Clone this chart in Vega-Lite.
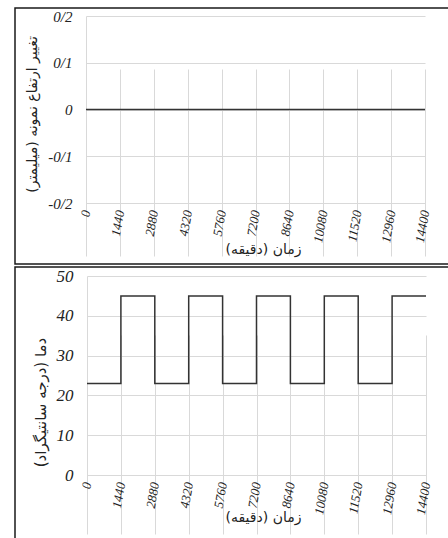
{
  "$schema": "https://vega.github.io/schema/vega-lite/v6.json",
  "padding": {"left": 14, "top": 7, "right": -5, "bottom": -5},
  "spacing": 1,
  "background": "white",
  "config": {
    "view": {"stroke": "#1a1a1a", "strokeWidth": 1.5},
    "axis": {
      "gridColor": "#d9d9d9",
      "gridWidth": 1,
      "domainColor": "#d9d9d9",
      "domainWidth": 1,
      "tickSize": 0,
      "ticks": false,
      "labelFont": "Liberation Serif",
      "labelFontStyle": "italic",
      "labelColor": "#222",
      "labelFlush": false,
      "labelOverlap": false,
      "titleFont": "DejaVu Sans",
      "titleColor": "#222",
      "titleFontWeight": "normal"
    }
  },
  "vconcat": [
    {
      "width": 437,
      "height": 256,
      "data": {"values": [
        {"t": 0, "h": 0}, {"t": 1440, "h": 0}, {"t": 2880, "h": 0}, {"t": 4320, "h": 0},
        {"t": 5760, "h": 0}, {"t": 7200, "h": 0}, {"t": 8640, "h": 0}, {"t": 10080, "h": 0},
        {"t": 11520, "h": 0}, {"t": 12960, "h": 0}, {"t": 14400, "h": 0}
      ]},
      "mark": {"type": "line", "color": "#333", "strokeWidth": 1.5},
      "encoding": {
        "x": {
          "field": "t", "type": "quantitative",
          "scale": {"domain": [0, 14400], "range": [71, 410], "nice": false, "zero": false},
          "axis": {
            "values": [0, 1440, 2880, 4320, 5760, 7200, 8640, 10080, 11520, 12960, 14400],
            "format": "d",
            "offset": -61, "labelAngle": -80, "labelFontSize": 13, "labelPadding": 7,
            "title": "زمان (دقیقه)", "titleFontSize": 14, "titleX": 248, "titleY": 46, "titleBaseline": "middle"
          }
        },
        "y": {
          "field": "h", "type": "quantitative",
          "scale": {"domain": [-0.2, 0.2], "range": [195, 8], "nice": false, "zero": false},
          "axis": {
            "values": [-0.2, -0.1, 0, 0.1, 0.2],
            "offset": -71,
            "labelExpr": "datum.value == 0 ? '0' : (datum.value < 0 ? '-' : '') + replace(format(abs(datum.value), '.1f'), '.', '/')",
            "labelFontSize": 15, "labelPadding": 14,
            "title": "تغییر ارتفاع نمونه (میلیمتر)", "titleFontSize": 14, "titlePadding": 8, "titleY": 106
          }
        }
      }
    },
    {
      "width": 437,
      "height": 276,
      "data": {"values": [
        {"t": 0, "temp": 23}, {"t": 1440, "temp": 45}, {"t": 2880, "temp": 23}, {"t": 4320, "temp": 45},
        {"t": 5760, "temp": 23}, {"t": 7200, "temp": 45}, {"t": 8640, "temp": 23}, {"t": 10080, "temp": 45},
        {"t": 11520, "temp": 23}, {"t": 12960, "temp": 45}, {"t": 14400, "temp": 45}
      ]},
      "mark": {"type": "line", "color": "#333", "strokeWidth": 1.5, "interpolate": "step-after"},
      "encoding": {
        "x": {
          "field": "t", "type": "quantitative",
          "scale": {"domain": [0, 14400], "range": [72, 411], "nice": false, "zero": false},
          "axis": {
            "values": [0, 1440, 2880, 4320, 5760, 7200, 8640, 10080, 11520, 12960, 14400],
            "format": "d",
            "offset": -68, "labelAngle": -80, "labelFontSize": 13, "labelPadding": 7,
            "title": "زمان (دقیقه)", "titleFontSize": 14, "titleX": 248, "titleY": 42, "titleBaseline": "middle"
          }
        },
        "y": {
          "field": "temp", "type": "quantitative",
          "scale": {"domain": [0, 50], "range": [208, 9], "nice": false},
          "axis": {
            "values": [0, 10, 20, 30, 40, 50],
            "offset": -72,
            "labelFontSize": 17, "labelPadding": 14,
            "title": "دما (درجه سانتیگراد)", "titleFontSize": 15, "titlePadding": 8, "titleY": 135
          }
        }
      }
    }
  ]
}
